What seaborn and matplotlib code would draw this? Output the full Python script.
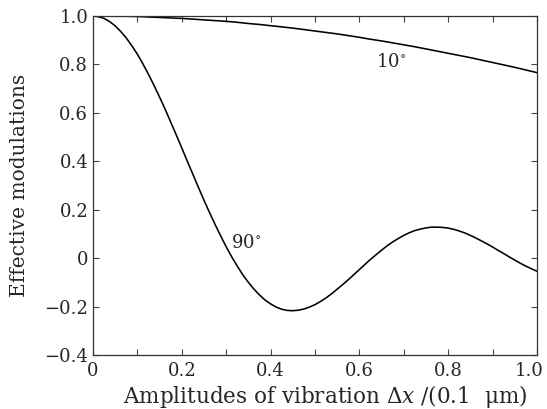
import numpy as np
import pandas as pd
import matplotlib
matplotlib.use("Agg")
import matplotlib.pyplot as plt
import matplotlib.transforms as mtransforms
import seaborn as sns

# amplitude of vibration (units of 0.1 um), 10 degree curve
amp_10 = [0.0, 0.025, 0.05, 0.075, 0.1, 0.125, 0.15, 0.175, 0.2, 0.225,
          0.25, 0.275, 0.3, 0.325, 0.35, 0.375, 0.4, 0.425, 0.45, 0.475,
          0.5, 0.525, 0.55, 0.575, 0.6, 0.625, 0.65, 0.675, 0.7, 0.725,
          0.75, 0.775, 0.8, 0.825, 0.85, 0.875, 0.9, 0.925, 0.95, 0.975, 1.0]

mod_10 = [1.000, 1.000, 0.999, 0.999, 0.998, 0.996, 0.994, 0.992, 0.990, 0.987,
          0.984, 0.981, 0.978, 0.974, 0.969, 0.965, 0.960, 0.955, 0.950, 0.944,
          0.938, 0.932, 0.926, 0.919, 0.912, 0.904, 0.897, 0.889, 0.881, 0.873,
          0.864, 0.855, 0.846, 0.837, 0.828, 0.818, 0.808, 0.798, 0.788, 0.777, 0.766]

# 90 degree curve, read at finer steps
amp_90 = [0.0, 0.0125, 0.025, 0.0375, 0.05, 0.0625, 0.075, 0.0875, 0.1, 0.1125,
          0.125, 0.1375, 0.15, 0.1625, 0.175, 0.1875, 0.2, 0.2125, 0.225, 0.2375,
          0.25, 0.2625, 0.275, 0.2875, 0.3, 0.3125, 0.325, 0.3375, 0.35, 0.3625,
          0.375, 0.3875, 0.4, 0.4125, 0.425, 0.4375, 0.45, 0.4625, 0.475, 0.4875,
          0.5, 0.5125, 0.525, 0.5375, 0.55, 0.5625, 0.575, 0.5875, 0.6, 0.6125,
          0.625, 0.6375, 0.65, 0.6625, 0.675, 0.6875, 0.7, 0.7125, 0.725, 0.7375,
          0.75, 0.7625, 0.775, 0.7875, 0.8, 0.8125, 0.825, 0.8375, 0.85, 0.8625,
          0.875, 0.8875, 0.9, 0.9125, 0.925, 0.9375, 0.95, 0.9625, 0.975, 0.9875, 1.0]

mod_90 = [1.000, 0.997, 0.990, 0.977, 0.959, 0.936, 0.909, 0.877, 0.842, 0.802,
          0.759, 0.713, 0.665, 0.615, 0.562, 0.509, 0.455, 0.400, 0.346, 0.292,
          0.239, 0.188, 0.139, 0.092, 0.047, 0.005, -0.033, -0.069, -0.100, -0.128,
          -0.152, -0.173, -0.189, -0.202, -0.211, -0.216, -0.217, -0.215, -0.210, -0.202,
          -0.192, -0.179, -0.164, -0.147, -0.128, -0.109, -0.089, -0.068, -0.047, -0.026,
          -0.005, 0.014, 0.033, 0.051, 0.067, 0.081, 0.094, 0.105, 0.114, 0.120,
          0.125, 0.128, 0.128, 0.127, 0.124, 0.119, 0.112, 0.104, 0.094, 0.083,
          0.071, 0.059, 0.046, 0.032, 0.019, 0.005, -0.008, -0.021, -0.033, -0.044, -0.054]

df = pd.DataFrame({
    "amp": amp_10 + amp_90,
    "mod": mod_10 + mod_90,
    "angle": ["10"] * len(amp_10) + ["90"] * len(amp_90),
})

sns.set_theme(style="ticks")
plt.rcParams["font.family"] = ["DejaVu Serif"]
plt.rcParams["mathtext.fontset"] = "dejavuserif"

fig, ax = plt.subplots(figsize=(5.47, 4.09), dpi=100)
fig.subplots_adjust(left=93 / 547, right=537 / 547, top=1 - 16 / 409, bottom=1 - 355 / 409)

sns.lineplot(data=df, x="amp", y="mod", units="angle", estimator=None,
             color="black", linewidth=1.15, ax=ax, legend=False)

ax.set_xlim(0, 1.0)
ax.set_ylim(-0.4, 1.0)
ax.set_xticks([0, 0.2, 0.4, 0.6, 0.8, 1.0])
ax.set_xticklabels(["0", "0.2", "0.4", "0.6", "0.8", "1.0"])
ax.set_xticks(np.arange(0.1, 1.0, 0.2), minor=True)
ax.set_yticks([-0.4, -0.2, 0, 0.2, 0.4, 0.6, 0.8, 1.0])
ax.set_yticklabels(["\u22120.4", "\u22120.2", "0", "0.2", "0.4", "0.6", "0.8", "1.0"])
ax.tick_params(which="both", direction="in", top=True, right=True,
               labelsize=13, color="#444444", width=0.8, length=4)
ax.tick_params(axis="x", pad=5)
for s in ax.spines.values():
    s.set_linewidth(0.9)
    s.set_color("#333333")

# last x label sits a little left so it stays inside the figure
last = ax.get_xticklabels()[-1]
last.set_transform(last.get_transform() + mtransforms.ScaledTranslation(-8 / 100, 0, fig.dpi_scale_trans))

ax.set_xlabel("Amplitudes of vibration $\\Delta x$ /(0.1  \u03bcm)", fontsize=15.5, labelpad=2)
ax.xaxis.label.set_x(0.522)
ax.set_ylabel("Effective modulations", fontsize=14.5, labelpad=11)

ax.text(0.67, 0.81, "10$^{\\circ}$", fontsize=13, ha="center", va="center")
ax.text(0.345, 0.062, "90$^{\\circ}$", fontsize=13, ha="center", va="center")

fig.savefig("out.png", dpi=100)
